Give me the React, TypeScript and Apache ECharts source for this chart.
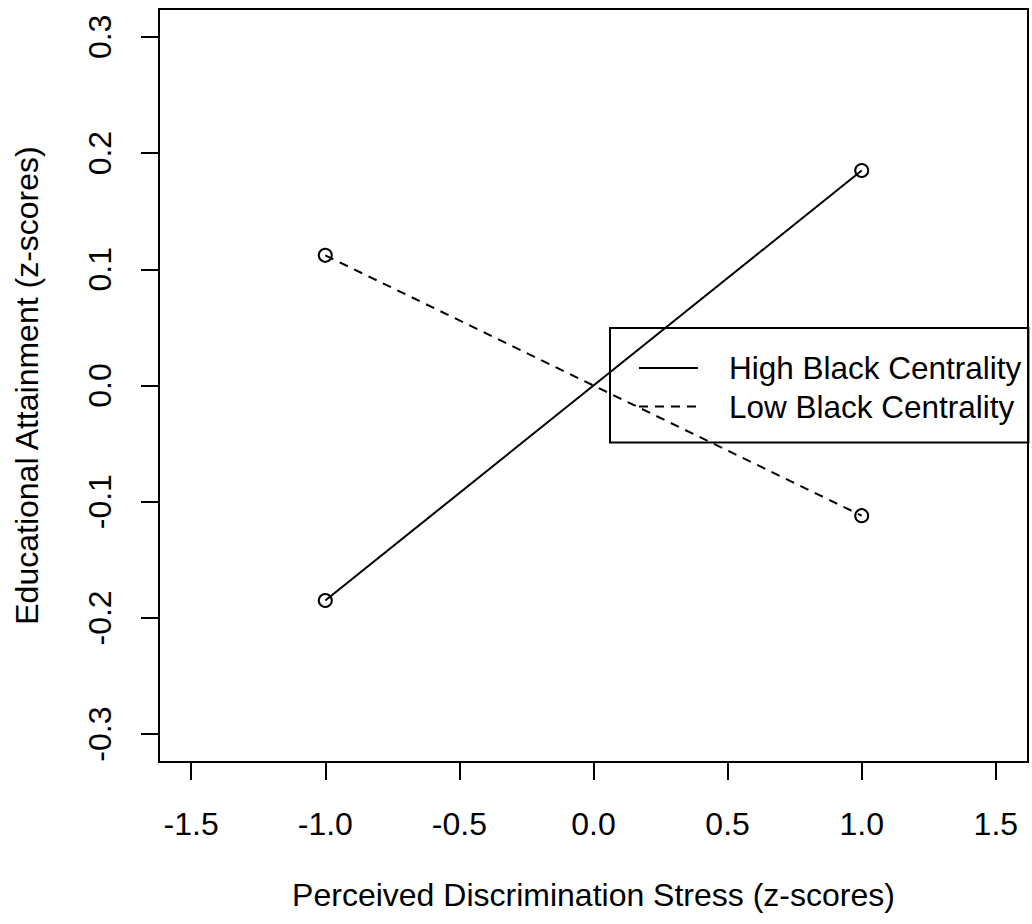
import React, { useEffect, useRef } from "react";
import * as echarts from "echarts";

const stressLevels = [-1, 1];
const highCentrality = [-0.185, 0.185];
const lowCentrality = [0.112, -0.112];
const xTicks = [-1.5, -1.0, -0.5, 0.0, 0.5, 1.0, 1.5];
const yTicks = [-0.3, -0.2, -0.1, 0.0, 0.1, 0.2, 0.3];
const seriesNames = ["High Black Centrality", "Low Black Centrality"];

const FONT = "'Liberation Sans', Arial, Helvetica, sans-serif";

export default function App() {
  const ref = useRef<HTMLDivElement>(null);
  useEffect(() => {
    document.body.style.margin = "0";
    const chart = echarts.init(ref.current!, null, { renderer: "svg" });
    const pts = (ys: number[]) => stressLevels.map((x, i) => [x, ys[i]]);
    const symbolStyle = { color: "rgba(0,0,0,0)", borderColor: "#000", borderWidth: 2 };
    chart.setOption({
      animation: false,
      backgroundColor: "#fff",
      textStyle: { fontFamily: FONT },
      grid: {
        show: true,
        left: 159,
        right: 4,
        top: 9,
        bottom: 162,
        borderColor: "#000",
        borderWidth: 2,
        backgroundColor: "rgba(0,0,0,0)",
      },
      xAxis: {
        type: "value",
        min: -1.62,
        max: 1.62,
        splitLine: { show: false },
        axisLine: { show: false, onZero: false },
        axisTick: {
          show: true,
          inside: false,
          length: 18,
          lineStyle: { color: "#000", width: 2 },
          customValues: xTicks,
        },
        axisLabel: {
          customValues: xTicks,
          formatter: (v: number) => v.toFixed(1),
          fontSize: 32,
          fontFamily: FONT,
          color: "#000",
          margin: 46,
        },
        name: "Perceived Discrimination Stress (z-scores)",
        nameLocation: "middle",
        nameGap: 117,
        nameTextStyle: { fontSize: 32, fontFamily: FONT, color: "#000" },
      },
      yAxis: {
        type: "value",
        min: -0.324,
        max: 0.324,
        splitLine: { show: false },
        axisLine: { show: false, onZero: false },
        axisTick: {
          show: true,
          inside: false,
          length: 18,
          lineStyle: { color: "#000", width: 2 },
          customValues: yTicks,
        },
        axisLabel: {
          customValues: yTicks,
          formatter: (v: number) => v.toFixed(1),
          fontSize: 32,
          fontFamily: FONT,
          color: "#000",
          rotate: 90,
          margin: 43,
        },
        name: "Educational Attainment (z-scores)",
        nameLocation: "middle",
        nameGap: 116,
        nameTextStyle: { fontSize: 32, fontFamily: FONT, color: "#000" },
      },
      legend: {
        orient: "vertical",
        left: 610,
        top: 328,
        data: seriesNames,
        borderColor: "#000",
        borderWidth: 2,
        backgroundColor: "rgba(0,0,0,0)",
        padding: [24, 7, 20, 28],
        itemWidth: 59,
        itemHeight: 20,
        itemGap: 6.5,
        itemStyle: { opacity: 0 },
        textStyle: {
          fontSize: 31.5,
          lineHeight: 32,
          fontFamily: FONT,
          color: "#000",
          padding: [0, 0, 0, 26],
        },
        selectedMode: false,
      },
      series: [
        {
          name: seriesNames[0],
          type: "line",
          data: pts(highCentrality),
          symbol: "circle",
          symbolSize: 13,
          itemStyle: symbolStyle,
          lineStyle: { color: "#000", width: 2, type: "solid" },
        },
        {
          name: seriesNames[1],
          type: "line",
          data: pts(lowCentrality),
          symbol: "circle",
          symbolSize: 13,
          itemStyle: symbolStyle,
          lineStyle: { color: "#000", width: 2, type: [9, 7] },
        },
      ],
    });
    return () => chart.dispose();
  }, []);
  return <div ref={ref} style={{ width: 1032, height: 924 }} />;
}
